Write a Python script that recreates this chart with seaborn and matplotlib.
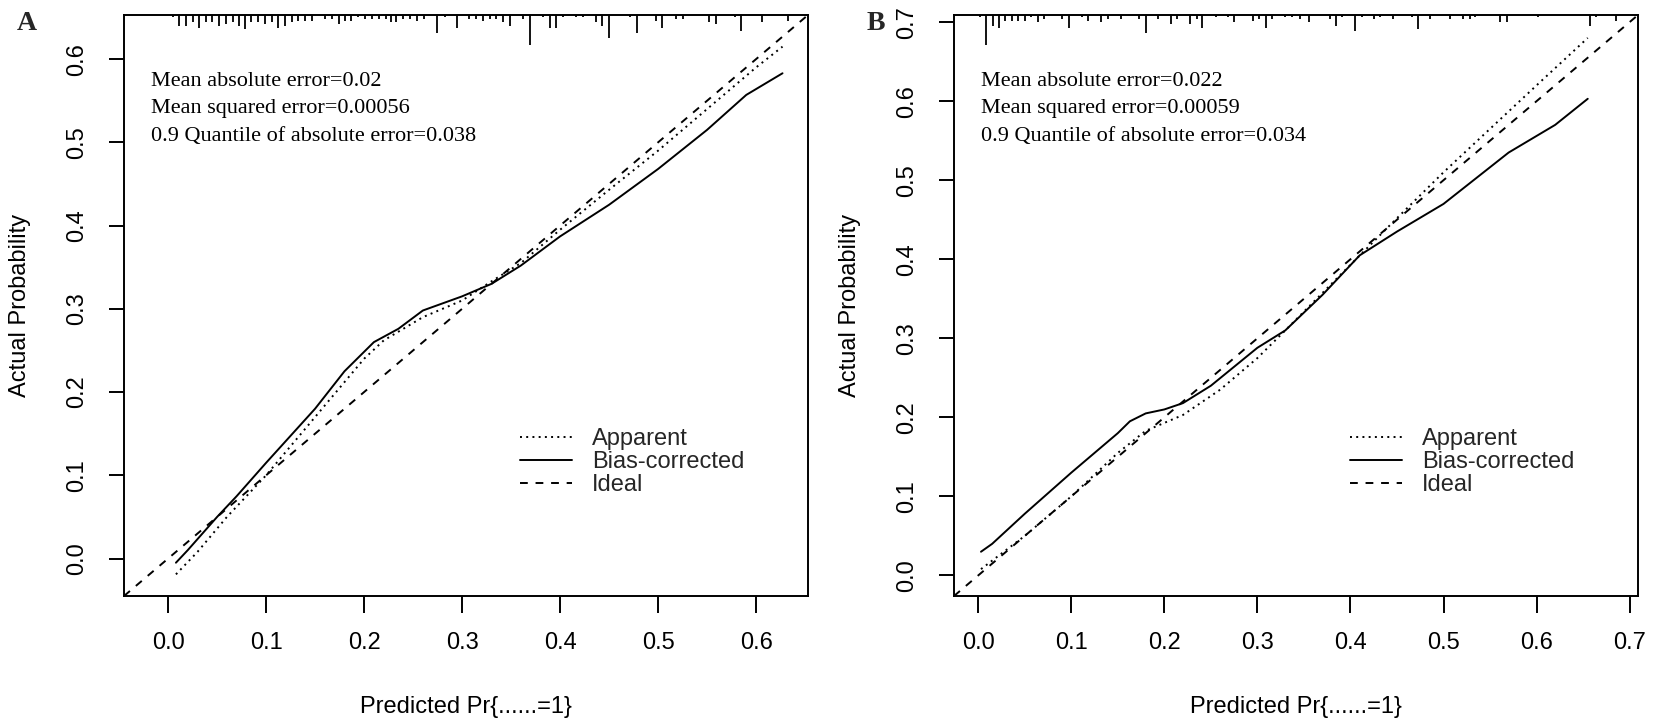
import numpy as np
import matplotlib
matplotlib.use('Agg')
import matplotlib.pyplot as plt
import matplotlib.transforms as mtransforms
from matplotlib.lines import Line2D
import seaborn as sns

sns.set_theme(style='white')
plt.rcParams['font.family'] = ['Liberation Sans', 'DejaVu Sans']

# Panel A: calibration curves
a_x_app = [0.008, 0.03, 0.06, 0.1, 0.15, 0.2, 0.22, 0.26, 0.3, 0.33, 0.36, 0.4, 0.45, 0.5, 0.55, 0.6, 0.627]
a_y_app = [-0.019, 0.008, 0.05, 0.1, 0.17, 0.24, 0.262, 0.29, 0.31, 0.333, 0.355, 0.395, 0.443, 0.49, 0.54, 0.59, 0.615]
a_x_bc = [0.008, 0.02, 0.05, 0.07, 0.1, 0.15, 0.18, 0.21, 0.235, 0.26, 0.3, 0.33, 0.36, 0.4, 0.45, 0.5, 0.55, 0.59, 0.627]
a_y_bc = [-0.005, 0.01, 0.05, 0.075, 0.115, 0.18, 0.225, 0.26, 0.276, 0.298, 0.315, 0.33, 0.352, 0.387, 0.425, 0.468, 0.515, 0.557, 0.583]

# Panel A: rug of predicted values (position, relative count)
a_rug_x = [0.005, 0.011, 0.018, 0.025, 0.032, 0.0385, 0.045, 0.052, 0.059, 0.066,
           0.072, 0.078, 0.085, 0.092, 0.099, 0.106, 0.112, 0.119, 0.126, 0.133,
           0.140, 0.147, 0.160, 0.167, 0.174, 0.181, 0.187, 0.194, 0.201, 0.208,
           0.215, 0.222, 0.227, 0.233, 0.240, 0.247, 0.254, 0.261, 0.274, 0.283,
           0.295, 0.307, 0.314, 0.321, 0.328, 0.335, 0.342, 0.349, 0.362, 0.369,
           0.383, 0.390, 0.396, 0.403, 0.416, 0.423, 0.437, 0.443, 0.450, 0.471,
           0.478, 0.498, 0.504, 0.518, 0.525, 0.552, 0.559, 0.579, 0.585, 0.606,
           0.633]
a_rug_n = [1, 6, 6, 4, 7, 4, 4, 6, 5, 4,
           6, 8, 4, 4, 5, 4, 7, 6, 4, 3,
           3, 3, 2, 2, 5, 3, 3, 1, 2, 2,
           2, 2, 4, 4, 2, 2, 3, 2, 10, 1,
           7, 2, 2, 3, 2, 2, 4, 6, 2, 17,
           1, 7, 7, 1, 1, 1, 4, 6, 13, 1,
           10, 3, 7, 2, 2, 4, 5, 1, 9, 4,
           3]

# Panel B: calibration curves
b_x_app = [0.003, 0.05, 0.1, 0.15, 0.18, 0.2, 0.22, 0.26, 0.3, 0.33, 0.4, 0.45, 0.5, 0.55, 0.6, 0.655]
b_y_app = [0.008, 0.05, 0.1, 0.155, 0.183, 0.193, 0.203, 0.235, 0.275, 0.31, 0.393, 0.452, 0.51, 0.565, 0.62, 0.68]
b_x_bc = [0.003, 0.015, 0.05, 0.1, 0.15, 0.163, 0.18, 0.2, 0.22, 0.25, 0.3, 0.33, 0.37, 0.41, 0.45, 0.5, 0.57, 0.62, 0.655]
b_y_bc = [0.03, 0.04, 0.078, 0.13, 0.18, 0.195, 0.205, 0.21, 0.218, 0.24, 0.288, 0.31, 0.355, 0.405, 0.435, 0.47, 0.535, 0.57, 0.603]

b_rug_x = [0.002, 0.0086, 0.0157, 0.022, 0.029, 0.036, 0.043, 0.050, 0.057, 0.064,
           0.071, 0.090, 0.0975, 0.112, 0.118, 0.132, 0.139, 0.153, 0.173, 0.180,
           0.193, 0.207, 0.214, 0.228, 0.235, 0.240, 0.255, 0.268, 0.275, 0.295,
           0.302, 0.309, 0.316, 0.330, 0.337, 0.3455, 0.356, 0.378, 0.384, 0.391,
           0.405, 0.412, 0.4255, 0.432, 0.4455, 0.466, 0.473, 0.486, 0.507, 0.5205,
           0.528, 0.534, 0.561, 0.568, 0.602, 0.657, 0.664, 0.685]
b_rug_n = [1, 17, 6, 7, 3, 3, 3, 3, 1, 4,
           2, 2, 7, 1, 3, 4, 2, 2, 2, 10,
           2, 5, 2, 5, 2, 7, 1, 1, 4, 3,
           2, 7, 2, 1, 1, 2, 4, 2, 6, 1,
           9, 1, 2, 1, 2, 1, 8, 2, 2, 2,
           2, 1, 4, 4, 1, 6, 1, 3]

a_stats = ['Mean absolute error=0.02',
           'Mean squared error=0.00056',
           '0.9 Quantile of absolute error=0.038']
b_stats = ['Mean absolute error=0.022',
           'Mean squared error=0.00059',
           '0.9 Quantile of absolute error=0.034']

a_ticks = [0.0, 0.1, 0.2, 0.3, 0.4, 0.5, 0.6]
b_ticks = [0.0, 0.1, 0.2, 0.3, 0.4, 0.5, 0.6, 0.7]

W, H = 1654, 728
fig = plt.figure(figsize=(W / 100, H / 100), dpi=100)

LW = 1.4
TICK_FS = 17
SERIF = ['Liberation Serif', 'DejaVu Serif']


def panel(left_px, x_app, y_app, x_bc, y_bc, rug_x, rug_n, lims, ticks, stats, letter, letter_x):
    ax_w, ax_h = 684, 581
    ax = fig.add_axes([left_px / W, (H - 596) / H, ax_w / W, ax_h / H])

    sns.lineplot(x=x_app, y=y_app, ax=ax, color='black', lw=LW, sort=False,
                 estimator=None, linestyle=(0, (1, 2.2)), label='Apparent')
    sns.lineplot(x=x_bc, y=y_bc, ax=ax, color='black', lw=LW, sort=False,
                 estimator=None, label='Bias-corrected')
    ax.axline((0, 0), (1, 1), color='black', lw=LW, linestyle=(0, (4, 4)), label='Ideal')

    # rug along the top, length proportional to count
    trans = mtransforms.blended_transform_factory(ax.transData, ax.transAxes)
    unit = 1.7 / ax_h
    for xv, n in zip(rug_x, rug_n):
        ax.plot([xv, xv], [1, 1 - n * unit - 0.6 / ax_h], transform=trans,
                color='black', lw=1.3, solid_capstyle='butt', clip_on=False)

    ax.set_xlim(lims)
    ax.set_ylim(lims)
    ax.set_xticks(ticks)
    ax.set_yticks(ticks)
    ax.set_xticklabels([f'{t:.1f}' for t in ticks])
    ax.set_yticklabels([f'{t:.1f}' for t in ticks], rotation=90, va='center')
    ax.tick_params(axis='x', direction='out', length=12, width=LW, pad=14,
                   labelsize=TICK_FS, colors='black', bottom=True)
    ax.tick_params(axis='y', direction='out', length=11, width=LW, pad=15,
                   labelsize=TICK_FS, colors='black', left=True)
    for s in ax.spines.values():
        s.set_visible(True)
        s.set_color('black')
        s.set_linewidth(LW)

    ax.set_xlabel('Predicted Pr{......=1}', fontsize=TICK_FS, color='black')
    ax.set_ylabel('Actual Probability', fontsize=TICK_FS, color='black')
    ax.xaxis.set_label_coords(0.5, (596 - 696) / ax_h)
    ax.yaxis.set_label_coords((31 - 124) / ax_w, 0.5)

    for i, line in enumerate(stats):
        ax.text(0.04, (596 - (82 + 27 * i)) / ax_h, line, transform=ax.transAxes,
                family=SERIF, fontsize=16, va='center', ha='left', color='black')

    handles = [Line2D([], [], color='black', lw=LW, linestyle=(0, (1, 2.2))),
               Line2D([], [], color='black', lw=LW),
               Line2D([], [], color='black', lw=LW, linestyle=(0, (4, 4)))]
    ax.legend(handles, ['Apparent', 'Bias-corrected', 'Ideal'], loc='center left',
              bbox_to_anchor=(0.579, (596 - 462) / ax_h), frameon=False,
              borderaxespad=0, borderpad=0, handlelength=2.2, handletextpad=0.85,
              labelspacing=0.05, fontsize=TICK_FS)

    fig.text(letter_x / W, 1 - 24 / H, letter, family=SERIF, fontweight='bold',
             fontsize=20, ha='center', va='center')
    return ax


panel(124, a_x_app, a_y_app, a_x_bc, a_y_bc, a_rug_x, a_rug_n,
      (-0.045, 0.653), a_ticks, a_stats, 'A', 27)
panel(954, b_x_app, b_y_app, b_x_bc, b_y_bc, b_rug_x, b_rug_n,
      (-0.026, 0.709), b_ticks, b_stats, 'B', 876)

fig.savefig('out.png', dpi=100)
